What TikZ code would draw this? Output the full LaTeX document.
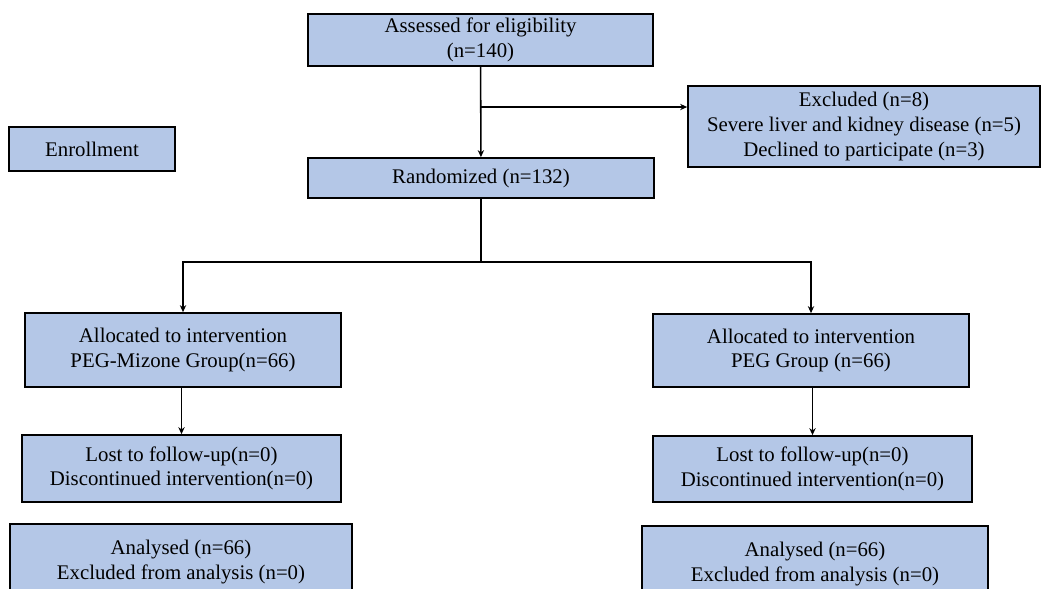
\documentclass[tikz,border=0pt]{standalone}
\usepackage{fontspec}
\setmainfont{Liberation Serif}
\usetikzlibrary{arrows.meta}

\definecolor{boxblue}{RGB}{180,199,231}

\begin{document}
\begin{tikzpicture}[x=0.025cm, y=-0.025cm,
  box/.style={draw, line width=1.2pt, fill=boxblue, align=center, inner sep=0pt, font=\fontsize{14.8}{17.6}\selectfont},
  link/.style={line width=1.1pt, -{Stealth[length=5pt, width=4.5pt]}}]

\def\px{0.025cm}

\useasboundingbox[fill=white] (0,0) rectangle (1043,588);

  % Nodes
  \node (assessed) [box, minimum width={345*\px}, minimum height={52*\px}] at (480.5,40) {Assessed for eligibility\\(n=140)};
  \node (excluded) [box, minimum width={352*\px}, minimum height={81*\px}] at (864,126.5) {Excluded (n=8)\\Severe liver and kidney disease (n=5)\\Declined to participate (n=3)};
  \node (enrol) [box, minimum width={166*\px}, minimum height={44*\px}] at (92,149) {Enrollment};
  \node (random) [box, minimum width={346*\px}, minimum height={40*\px}] at (481,178) {Randomized (n=132)};

  \node (alloc_mizone) [box, minimum width={316*\px}, minimum height={74*\px}] at (183,350) {Allocated to intervention\\PEG-Mizone Group(n=66)};
  \node (lost_mizone) [box, minimum width={319*\px}, minimum height={67*\px}] at (181.5,468.5) {Lost to follow-up(n=0)\\Discontinued intervention(n=0)};
  \node (anal_mizone) [box, minimum width={342*\px}, minimum height={76*\px}] at (181,562) {Analysed (n=66)\\Excluded from analysis (n=0)};

  \node (alloc_peg) [box, minimum width={316*\px}, minimum height={73*\px}] at (811,350.5) {Allocated to intervention\\PEG Group (n=66)};
  \node (lost_peg) [box, minimum width={319*\px}, minimum height={66*\px}] at (812.5,469) {Lost to follow-up(n=0)\\Discontinued intervention(n=0)};
  \node (anal_peg) [box, minimum width={346*\px}, minimum height={76*\px}] at (815,564) {Analysed (n=66)\\Excluded from analysis (n=0)};

  \coordinate (split) at (481,107);
  \coordinate (fork) at (481,262);

  % Arrows
  \draw[link] (assessed) -- (random);
  \draw[link] (split) -- (excluded.west |- split);
  \draw[line width=1.1pt] (random) -- (fork);
  \draw[link] (fork) -| (alloc_mizone);
  \draw[link] (fork) -| (alloc_peg);
  \draw[link] (alloc_mizone.south -| lost_mizone.north) -- (lost_mizone);
  \draw[link] (alloc_peg.south -| lost_peg.north) -- (lost_peg);

\end{tikzpicture}
\end{document}
